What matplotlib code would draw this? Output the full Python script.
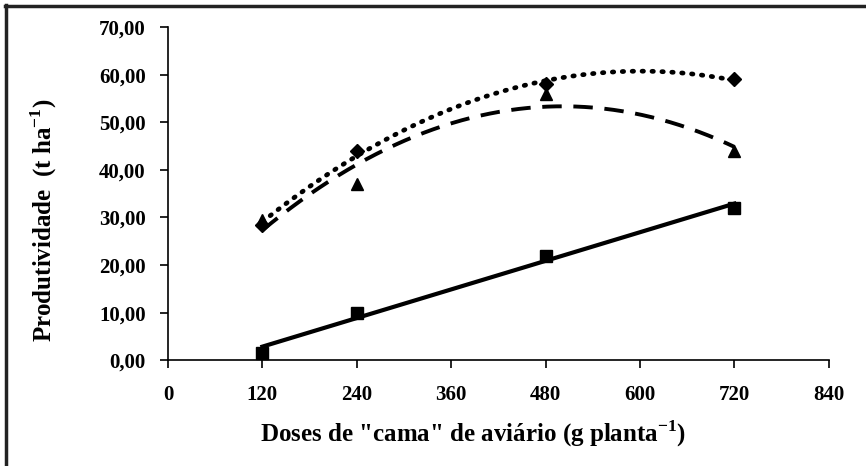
import numpy as np
import matplotlib
matplotlib.use('Agg')
import matplotlib.pyplot as plt
from matplotlib.lines import Line2D
from matplotlib.ticker import FuncFormatter

# --- Data ---
doses = [120, 240, 480, 720]
serie_losango = [28.5, 44.0, 58.0, 59.0]    # dotted quadratic trend
serie_triangulo = [29.5, 37.0, 56.0, 44.0]  # dashed quadratic trend
serie_quadrado = [1.5, 10.0, 22.0, 32.0]    # solid linear trend

x_ticks = [0, 120, 240, 360, 480, 600, 720, 840]
y_ticks = [0, 10, 20, 30, 40, 50, 60, 70]

plt.rcParams['font.family'] = ['Liberation Serif', 'DejaVu Serif']
plt.rcParams['font.weight'] = 'bold'
plt.rcParams['mathtext.fontset'] = 'custom'
plt.rcParams['mathtext.rm'] = 'Liberation Serif:bold'
plt.rcParams['mathtext.bf'] = 'Liberation Serif:bold'

fig = plt.figure(figsize=(8.66, 4.66), dpi=100)
ax = fig.add_axes([0.194, 0.227, 0.763, 0.715])

xs = np.linspace(min(doses), max(doses), 200)

# trend lines fitted to the data
fit1 = np.polyval(np.polyfit(doses, serie_losango, 2), xs)
fit2 = np.polyval(np.polyfit(doses, serie_triangulo, 2), xs)
fit3 = np.polyval(np.polyfit(doses, serie_quadrado, 1), xs)

ax.plot(xs, fit1, color='black', lw=3.4, linestyle=(0, (0.3, 1.8)), dash_capstyle='round')
ax.plot(xs, fit2, color='black', lw=2.8, linestyle=(0, (5, 3)))
ax.plot(xs, fit3, color='black', lw=3.0)

ax.plot(doses, serie_losango, 'D', color='black', ms=7, ls='none')
ax.plot(doses, serie_triangulo, '^', color='black', ms=8, ls='none')
ax.plot(doses, serie_quadrado, 's', color='black', ms=9, ls='none')

ax.set_xlim(0, 840)
ax.set_ylim(0, 70)
ax.set_xticks(x_ticks)
ax.set_yticks(y_ticks)
ax.yaxis.set_major_formatter(FuncFormatter(lambda v, p: f'{v:.2f}'.replace('.', ',')))

for side in ['top', 'right']:
    ax.spines[side].set_visible(False)
for side in ['left', 'bottom']:
    ax.spines[side].set_linewidth(1.2)

ax.tick_params(direction='out', length=6, width=1.2, labelsize=15)
ax.tick_params(axis='x', pad=12)
ax.tick_params(axis='y', pad=10)

ax.set_xlabel('Doses de "cama" de aviário (g planta$^{\\mathrm{-1}}$)', fontsize=18,
              fontweight='bold')
ax.set_ylabel('Produtividade  (t ha$^{\\mathrm{-1}}$)', fontsize=18, fontweight='bold')
ax.xaxis.set_label_coords(0.462, -0.175)
ax.yaxis.set_label_coords(-0.165, 0.42)

# frame lines (top and left) around the figure
fig.add_artist(Line2D([0.006, 1.0], [0.988, 0.988], transform=fig.transFigure,
                      color='#222222', lw=2.5))
fig.add_artist(Line2D([0.007, 0.007], [0.0, 0.99], transform=fig.transFigure,
                      color='#222222', lw=2.5))

fig.savefig('out.png', dpi=100)
